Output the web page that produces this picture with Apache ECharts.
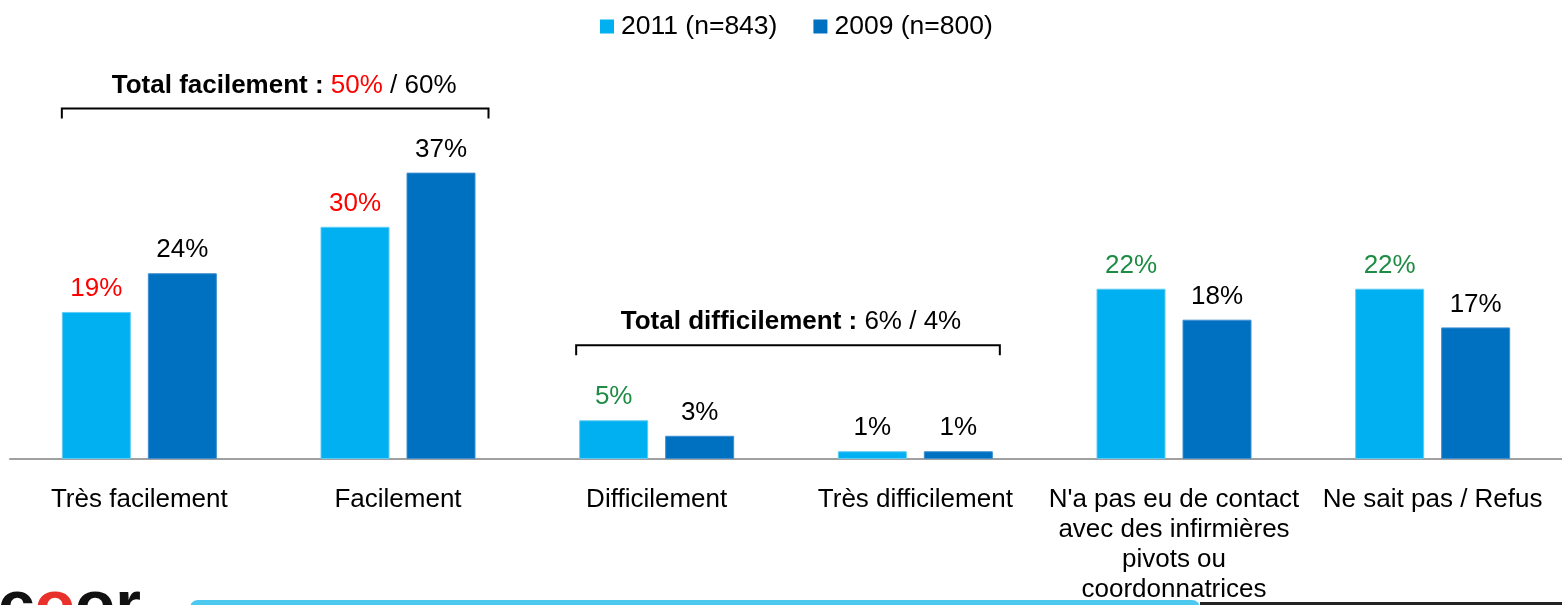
<!DOCTYPE html>
<html>
<head>
<meta charset="utf-8">
<script src="https://cdn.jsdelivr.net/npm/echarts@6/dist/echarts.min.js"></script>
<style>
html,body{margin:0;padding:0;background:#fff;}
#c{width:1562px;height:605px;}
</style>
</head>
<body>
<div id="c"></div>
<script>
const categories = ['Très facilement', 'Facilement', 'Difficilement', 'Très difficilement',
  "N'a pas eu de contact\navec des infirmières\npivots ou\ncoordonnatrices", 'Ne sait pas / Refus'];
const seriesNames = ['2011 (n=843)', '2009 (n=800)'];
const values2011 = [19, 30, 5, 1, 22, 22];
const values2009 = [24, 37, 3, 1, 18, 17];
const labelColors2011 = ['#FF0000', '#FF0000', '#1E8C45', '#000000', '#1E8C45', '#1E8C45'];
const groupTitles = ['Total facilement', 'Total difficilement'];
const groupFrom = [0, 2];
const groupTo = [1, 3];
const groupTotal2011 = [50, 6];
const groupTotal2009 = [60, 4];
const groupTotal2011Colors = ['red', 'black'];
const groupLevel = [45.3, 14.7];

const FONT = '"Liberation Sans", Arial, sans-serif';
const FS = 26;
const BAR_W = 69, BAR_GAP = 17;
const bracketPadL = [0, 3];
const bracketPadR = [13, 7];

const chart = echarts.init(document.getElementById('c'), null, {renderer: 'canvas'});
chart.setOption({
  animation: false,
  textStyle: {fontFamily: FONT},
  legend: {
    top: 8, left: 595,
    itemWidth: 14, itemHeight: 14, itemGap: 36,
    icon: 'rect',
    itemStyle: {borderWidth: 0},
    textStyle: {fontSize: 26.5, color: '#000', fontFamily: FONT, padding: [0, 0, 0, 2]},
    data: seriesNames
  },
  grid: {left: 10, right: 0, top: 72, bottom: 146, containLabel: false},
  xAxis: {
    type: 'category', data: categories,
    axisLine: {lineStyle: {color: '#A0A0A0', width: 2}},
    axisTick: {show: false},
    axisLabel: {fontSize: FS, color: '#000', lineHeight: 30, margin: 26, interval: 0, fontFamily: FONT}
  },
  yAxis: {type: 'value', min: 0, max: 50, show: false, splitLine: {show: false}},
  series: [
    {
      name: seriesNames[0], type: 'bar', barWidth: BAR_W, barGap: (BAR_GAP / BAR_W * 100) + '%',
      itemStyle: {color: '#00B0F0', borderColor: '#5FCBF5', borderWidth: 1},
      data: values2011.map((v, i) => ({value: v, label: {color: labelColors2011[i]}})),
      label: {show: true, position: 'top', distance: 10, fontSize: FS, formatter: '{c}%', fontFamily: FONT}
    },
    {
      name: seriesNames[1], type: 'bar', barWidth: BAR_W,
      itemStyle: {color: '#0070C0', borderColor: '#3F8FD0', borderWidth: 1},
      data: values2009,
      label: {show: true, position: 'top', distance: 10, fontSize: FS, color: '#000', formatter: '{c}%', fontFamily: FONT}
    }
  ]
});

function drawAnnotations() {
  const els = [];
  const half = BAR_W + BAR_GAP / 2;
  groupTitles.forEach((t, g) => {
    const x1 = chart.convertToPixel({xAxisIndex: 0}, groupFrom[g]) - half - bracketPadL[g];
    const x2 = chart.convertToPixel({xAxisIndex: 0}, groupTo[g]) + half + bracketPadR[g];
    const y = chart.convertToPixel({yAxisIndex: 0}, groupLevel[g]);
    els.push({
      type: 'polyline',
      shape: {points: [[x1, y + 10], [x1, y], [x2, y], [x2, y + 10]]},
      style: {stroke: '#000', lineWidth: 2, fill: null}
    });
    els.push({
      type: 'text', x: (x1 + x2) / 2 + (g === 0 ? 9 : 3), y: y - 23,
      style: {
        text: '{b|' + t + ' : }{' + groupTotal2011Colors[g] + '|' + groupTotal2011[g] + '%}{n| / ' + groupTotal2009[g] + '%}',
        align: 'center', verticalAlign: 'middle',
        rich: {
          b: {fontSize: FS, fontWeight: 'bold', fill: '#000', fontFamily: FONT},
          red: {fontSize: FS, fill: '#FF0000', fontFamily: FONT},
          black: {fontSize: FS, fill: '#000', fontFamily: FONT},
          n: {fontSize: FS, fill: '#000', fontFamily: FONT}
        }
      }
    });
  });
  // footer decoration
  els.push({type: 'rect', shape: {x: 190, y: 600, width: 1010, height: 20, r: 8}, style: {fill: '#4DC9F0'}});
  els.push({type: 'rect', shape: {x: 1200, y: 602, width: 362, height: 3}, style: {fill: '#222'}});
  els.push({
    type: 'text', x: -2, y: 576,
    style: {
      text: '{k|c}{r|o}{k|or}',
      rich: {
        k: {fontSize: 66, fontWeight: 'bold', fill: '#111', fontFamily: FONT},
        r: {fontSize: 66, fontWeight: 'bold', fill: '#E8312A', fontFamily: FONT}
      },
      verticalAlign: 'top'
    }
  });
  chart.setOption({graphic: {elements: els}});
}
drawAnnotations();
</script>
</body>
</html>
